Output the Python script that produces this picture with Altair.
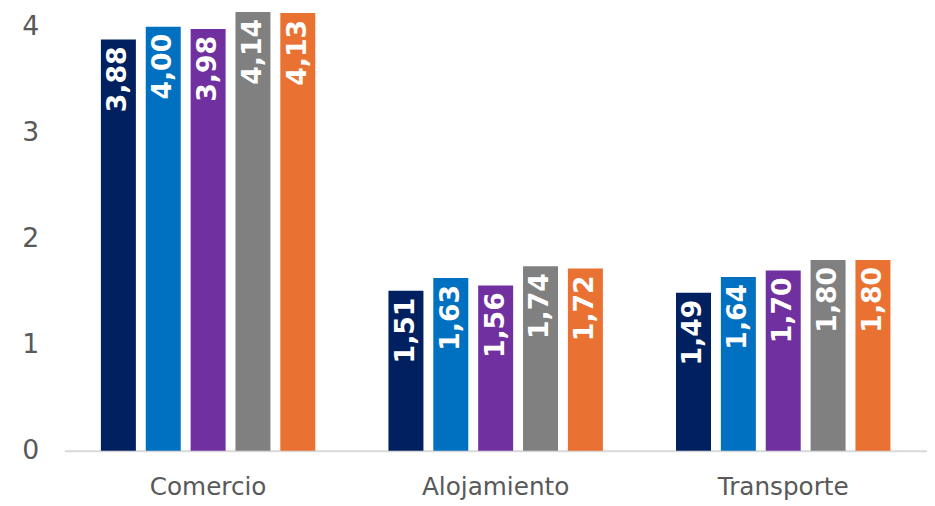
import altair as alt
import pandas as pd

categories = ["Comercio", "Alojamiento", "Transporte"]
series = ["Serie 1", "Serie 2", "Serie 3", "Serie 4", "Serie 5"]
colors = ["#002060", "#0070C0", "#7030A0", "#808080", "#E97132"]
comercio = [3.88, 4.00, 3.98, 4.14, 4.13]
alojamiento = [1.51, 1.63, 1.56, 1.74, 1.72]
transporte = [1.49, 1.64, 1.70, 1.80, 1.80]

rows = []
for cat, vals in zip(categories, [comercio, alojamiento, transporte]):
    for s, v in zip(series, vals):
        rows.append({"cat": cat, "serie": s, "valor": v})
df = pd.DataFrame(rows)

FONT = "DejaVu Sans"
GRAY = "#595959"

x = alt.X("cat:N", sort=categories, title=None,
          scale=alt.Scale(paddingInner=0.22, paddingOuter=0.11),
          axis=alt.Axis(labelAngle=0, labelFontSize=25, labelColor=GRAY, labelFont=FONT,
                        domainColor="#D9D9D9", domainWidth=2, ticks=False, labelPadding=24))
xo = alt.XOffset("serie:N", sort=series,
                 scale=alt.Scale(paddingInner=0.22, paddingOuter=0.11))
y = alt.Y("valor:Q", title=None,
          scale=alt.Scale(domain=[0, 4.15], nice=False),
          axis=alt.Axis(values=[0, 1, 2, 3, 4], format="d", labelFontSize=27, labelColor=GRAY,
                        labelFont=FONT, domain=False, ticks=False, grid=False, labelPadding=26))
color = alt.Color("serie:N", sort=series, scale=alt.Scale(domain=series, range=colors), legend=None)

bars = alt.Chart(df).mark_bar().encode(x=x, xOffset=xo, y=y, color=color)

labels = alt.Chart(df).transform_calculate(
    lab="replace(format(datum.valor, '.2f'), '.', ',')"
).mark_text(angle=270, align="right", baseline="middle", dx=-7, color="white",
            fontSize=27, fontWeight="bold", font=FONT).encode(
    x=x, xOffset=xo, y=y, text="lab:N")

chart = alt.layer(bars, labels).properties(
    width=873, height=445,
    autosize=alt.AutoSizeParams(type="none"),
    padding={"left": 57, "top": 0, "right": 0, "bottom": 53},
).configure_view(stroke=None)

chart.save("out.html", embed_options={"renderer": "svg", "actions": False})
